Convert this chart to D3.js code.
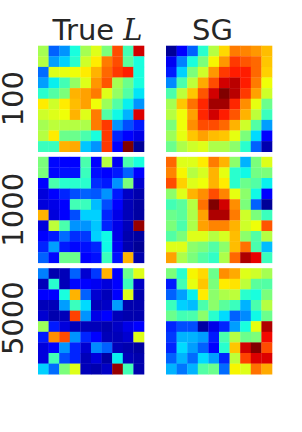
<!DOCTYPE html>
<html><head><meta charset="utf-8">
<script src="https://cdn.jsdelivr.net/npm/d3@7"></script>
<style>html,body{margin:0;padding:0;background:#fff;}svg{display:block;}</style>
</head><body>
<script>
const rowLabels = ["100", "1000", "5000"];
const colTitles = ["True", "SG"];

const trueL100 = [
[0.55,0.22,0.27,0.38,0.55,0.62,0.50,0.83,0.43,0.93],
[0.57,0.28,0.33,0.40,0.60,0.66,0.78,0.83,0.46,0.38],
[0.23,0.62,0.63,0.64,0.66,0.72,0.80,0.85,0.88,0.38],
[0.28,0.36,0.43,0.53,0.62,0.75,0.82,0.55,0.48,0.38],
[0.40,0.45,0.50,0.72,0.74,0.78,0.62,0.53,0.45,0.35],
[0.66,0.60,0.66,0.71,0.74,0.64,0.54,0.45,0.36,0.27],
[0.60,0.62,0.64,0.72,0.62,0.78,0.45,0.37,0.30,0.92],
[0.55,0.58,0.57,0.57,0.56,0.78,0.85,0.27,0.20,0.15],
[0.57,0.66,0.48,0.48,0.44,0.38,0.85,0.16,0.12,0.09],
[0.42,0.42,0.72,0.73,0.32,0.27,0.85,0.11,1.00,0.02]];

const sg100 = [
[0.02,0.12,0.22,0.40,0.57,0.68,0.78,0.77,0.75,0.71],
[0.10,0.25,0.38,0.50,0.65,0.75,0.85,0.82,0.80,0.70],
[0.15,0.33,0.50,0.60,0.75,0.85,0.88,0.88,0.80,0.69],
[0.26,0.44,0.58,0.73,0.83,0.93,0.95,0.88,0.78,0.64],
[0.44,0.58,0.70,0.82,0.93,1.00,0.95,0.85,0.74,0.60],
[0.55,0.70,0.79,0.87,0.97,0.97,0.87,0.76,0.63,0.48],
[0.57,0.64,0.74,0.87,0.93,0.88,0.82,0.72,0.58,0.42],
[0.50,0.64,0.76,0.83,0.83,0.80,0.72,0.60,0.45,0.28],
[0.54,0.63,0.70,0.74,0.71,0.70,0.63,0.50,0.34,0.12],
[0.48,0.56,0.60,0.62,0.56,0.56,0.52,0.40,0.22,0.04]];

const trueL1000 = [
[0.50,0.13,0.12,0.12,0.44,0.12,0.57,0.10,0.44,0.38],
[0.50,0.13,0.14,0.14,0.42,0.14,0.11,0.15,0.22,0.11],
[0.11,0.44,0.40,0.40,0.40,0.17,0.15,0.27,0.50,0.07],
[0.08,0.11,0.16,0.20,0.22,0.21,0.27,0.15,0.06,0.04],
[0.08,0.09,0.12,0.43,0.42,0.31,0.20,0.11,0.05,0.03],
[0.72,0.08,0.11,0.20,0.33,0.33,0.16,0.09,0.05,0.03],
[0.08,0.58,0.44,0.27,0.27,0.32,0.16,0.09,0.05,0.98],
[0.11,0.15,0.23,0.17,0.18,0.33,0.37,0.09,0.04,0.03],
[0.16,0.28,0.15,0.13,0.14,0.16,0.37,0.10,0.04,0.02],
[0.22,0.13,0.48,0.48,0.12,0.14,0.42,0.14,0.72,0.04]];

const sg1000 = [
[0.80,0.62,0.62,0.66,0.78,0.72,0.52,0.30,0.50,0.62],
[0.77,0.65,0.57,0.61,0.72,0.63,0.40,0.37,0.49,0.50],
[0.83,0.69,0.62,0.64,0.72,0.66,0.40,0.48,0.45,0.36],
[0.52,0.62,0.72,0.76,0.83,0.77,0.63,0.52,0.37,0.12],
[0.43,0.46,0.57,0.79,1.00,0.93,0.76,0.50,0.22,0.02],
[0.48,0.46,0.56,0.74,0.96,0.96,0.78,0.60,0.50,0.42],
[0.50,0.44,0.56,0.74,0.77,0.77,0.72,0.60,0.64,0.82],
[0.45,0.50,0.62,0.62,0.57,0.61,0.71,0.52,0.45,0.57],
[0.62,0.62,0.52,0.50,0.45,0.52,0.71,0.79,0.44,0.31],
[0.74,0.56,0.50,0.45,0.41,0.56,0.80,0.96,0.91,0.42]];

const trueL5000 = [
[0.25,0.04,0.05,0.22,0.07,0.18,0.72,0.12,0.48,0.62],
[0.05,0.40,0.05,0.13,0.12,0.10,0.08,0.12,0.42,0.06],
[0.12,0.12,0.38,0.72,0.22,0.07,0.05,0.12,0.62,0.04],
[0.05,0.05,0.28,0.42,0.34,0.05,0.06,0.28,0.04,0.04],
[0.07,0.04,0.05,0.84,0.27,0.09,0.11,0.05,0.04,0.04],
[0.54,0.15,0.08,0.05,0.05,0.05,0.04,0.06,0.09,0.12],
[0.15,0.76,0.83,0.27,0.16,0.11,0.05,0.05,0.07,0.62],
[0.08,0.11,0.27,0.16,0.07,0.26,0.22,0.05,0.04,0.03],
[0.08,0.43,0.20,0.16,0.05,0.08,0.03,0.36,0.05,0.04],
[0.33,0.23,0.50,0.62,0.05,0.04,0.06,0.98,0.43,0.04]];

const sg5000 = [
[0.50,0.40,0.65,0.68,0.48,0.76,0.73,0.62,0.60,0.55],
[0.15,0.43,0.63,0.70,0.50,0.66,0.67,0.58,0.46,0.45],
[0.22,0.28,0.36,0.66,0.52,0.56,0.58,0.40,0.38,0.50],
[0.42,0.33,0.31,0.44,0.52,0.46,0.42,0.30,0.44,0.57],
[0.48,0.43,0.44,0.52,0.40,0.34,0.22,0.26,0.37,0.48],
[0.16,0.20,0.20,0.03,0.09,0.16,0.28,0.38,0.63,0.96],
[0.18,0.30,0.30,0.28,0.15,0.44,0.57,0.48,0.50,0.90],
[0.16,0.34,0.28,0.22,0.12,0.40,0.70,0.93,1.00,0.83],
[0.22,0.30,0.23,0.34,0.28,0.16,0.58,0.84,0.92,0.92],
[0.30,0.24,0.30,0.45,0.48,0.23,0.65,0.62,0.79,0.73]];

const panels = [[trueL100, sg100], [trueL1000, sg1000], [trueL5000, sg5000]];

// matplotlib "jet" colormap
function seg(pts, t) {
  for (let i = 1; i < pts.length; i++) {
    if (t <= pts[i][0]) {
      const [x0, y0] = pts[i-1], [x1, y1] = pts[i];
      return y0 + (y1 - y0) * (t - x0) / (x1 - x0);
    }
  }
  return pts[pts.length-1][1];
}
const R = [[0,0],[0.35,0],[0.66,1],[0.89,1],[1,0.5]];
const G = [[0,0],[0.125,0],[0.375,1],[0.64,1],[0.91,0],[1,0]];
const B = [[0,0.5],[0.11,1],[0.34,1],[0.65,0],[1,0]];
function jet(t) {
  t = Math.max(0, Math.min(1, t));
  return d3.rgb(255*seg(R,t), 255*seg(G,t), 255*seg(B,t)).formatHex();
}
const color = d3.scaleSequential(jet).domain([0, 1]);

const W = 302, H = 432;
const svg = d3.select("body").append("svg").attr("width", W).attr("height", H);

const colX = [38, 166];
const rowY = [45.7, 156.8, 268.2];
const size = 106;
const idx = d3.range(10);
const textColor = "#262626";

panels.forEach((row, r) => {
  row.forEach((mat, c) => {
    const x = d3.scaleBand().domain(idx).range([colX[c], colX[c] + size]);
    const y = d3.scaleBand().domain(idx).range([rowY[r], rowY[r] + size]);
    const g = svg.append("g");
    mat.forEach((vals, i) => {
      g.selectAll(null).data(vals).enter().append("rect")
        .attr("x", (d, j) => x(j))
        .attr("y", y(i))
        .attr("width", x.bandwidth() + 0.3)
        .attr("height", y.bandwidth() + 0.3)
        .attr("fill", d => color(d));
    });
  });
  svg.append("text")
    .attr("transform", `translate(22.5,${rowY[r] + size/2 + (r===2 ? -3 : 0)}) rotate(-90)`)
    .attr("text-anchor", "middle")
    .attr("font-family", "DejaVu Sans")
    .attr("font-size", 29)
    .attr("fill", textColor)
    .text(rowLabels[r]);
});

// column titles
const t1 = svg.append("text")
  .attr("x", 52.5).attr("y", 39.5)
  .attr("font-family", "DejaVu Sans").attr("font-size", 29)
  .attr("fill", textColor);
t1.append("tspan").text(colTitles[0] + " ");
t1.append("tspan").attr("font-family", "DejaVu Serif").attr("font-style", "italic").text("L");

svg.append("text")
  .attr("x", 212.5).attr("y", 39.5)
  .attr("text-anchor", "middle")
  .attr("font-family", "DejaVu Sans").attr("font-size", 29)
  .attr("fill", textColor)
  .text(colTitles[1]);
</script>
</body></html>
